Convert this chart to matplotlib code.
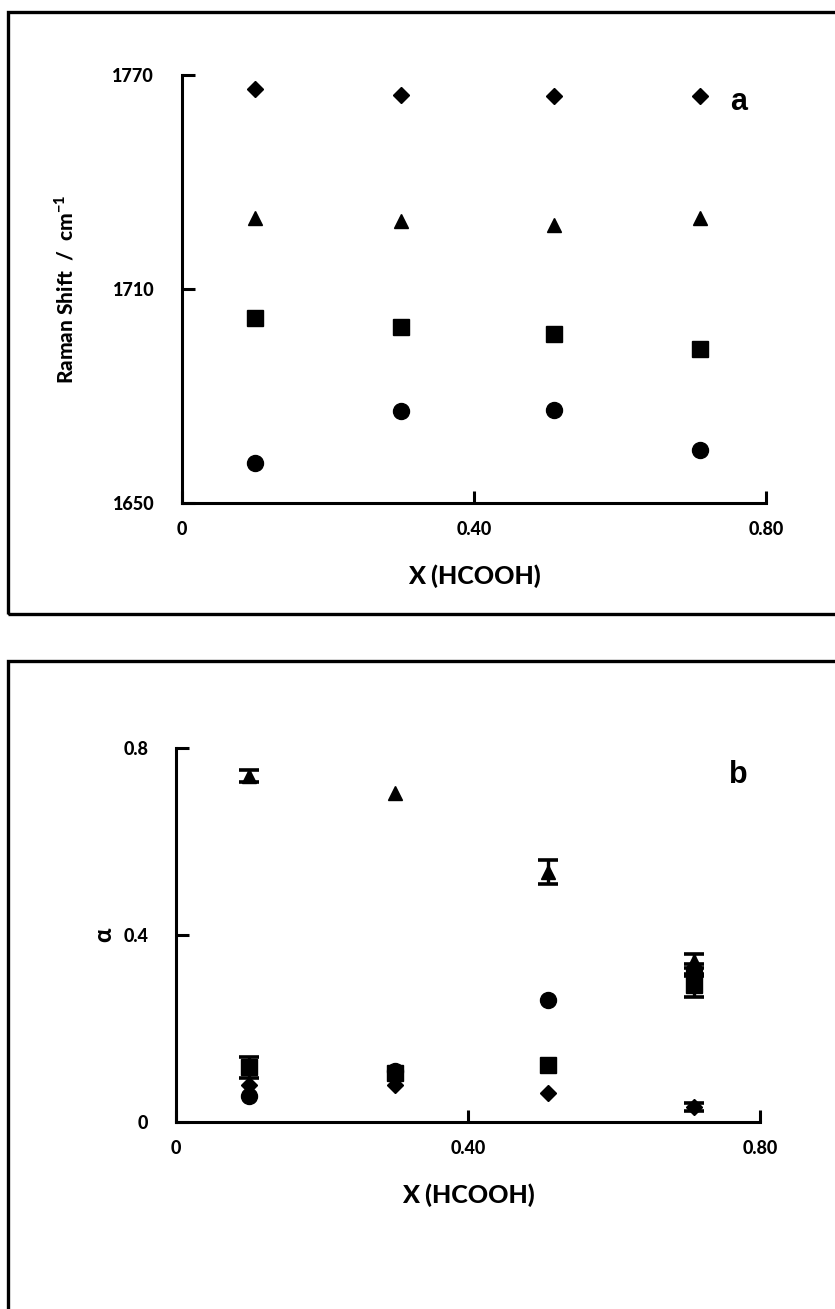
import numpy as np
import matplotlib.pyplot as plt
from matplotlib.patches import Rectangle

plt.rcParams['font.family'] = ['Lato', 'Liberation Sans', 'DejaVu Sans']
plt.rcParams['font.weight'] = 'black'
plt.rcParams['mathtext.fontset'] = 'custom'
plt.rcParams['mathtext.rm'] = 'Lato:black'
plt.rcParams['mathtext.bf'] = 'Lato:black'

# mole fraction of formic acid
x_frac = [0.10, 0.30, 0.51, 0.71]

# (a) band positions, cm-1
shift_diamond = [1766.0, 1764.3, 1764.2, 1764.0]
shift_triangle = [1729.9, 1729.1, 1727.9, 1729.8]
shift_square = [1701.8, 1699.4, 1697.3, 1693.2]
shift_circle = [1661.3, 1675.9, 1676.1, 1664.9]

# (b) fractions alpha with errors (0 = no bar drawn)
alpha_triangle = [0.740, 0.703, 0.535, 0.345]
err_triangle = [0.012, 0.0, 0.025, 0.015]
alpha_circle = [0.056, 0.110, 0.262, 0.325]
err_circle = [0.0, 0.0, 0.0, 0.012]
alpha_square = [0.117, 0.105, 0.122, 0.292]
err_square = [0.022, 0.0, 0.0, 0.024]
alpha_diamond = [0.080, 0.080, 0.062, 0.032]
err_diamond = [0.0, 0.0, 0.0, 0.008]

W, H = 835, 1309
fig = plt.figure(figsize=(W / 100, H / 100), dpi=100)


def box(px_left, px_top, px_right, px_bottom):
    return [px_left / W, 1 - px_bottom / H, (px_right - px_left) / W, (px_bottom - px_top) / H]


# outer frames round each panel
fig.add_artist(Rectangle((8 / W, 1 - 614 / H), 1.0, (614 - 12) / H,
                         transform=fig.transFigure, fill=False, lw=2.4, ec='black'))
fig.add_artist(Rectangle((8 / W, -0.2), 1.0, 0.2 + 1 - 661 / H,
                         transform=fig.transFigure, fill=False, lw=2.4, ec='black'))


def style_axes(ax):
    for s in ['top', 'right']:
        ax.spines[s].set_visible(False)
    for s in ['left', 'bottom']:
        ax.spines[s].set_linewidth(2.2)
    ax.tick_params(direction='in', length=9, width=2.2, labelsize=13, pad=13)
    ax.tick_params(axis='y', pad=20)
    ax.set_xlim(0, 0.8)
    ax.set_xticks([0, 0.4, 0.8])
    ax.set_xticklabels(['0', '0.40', '0.80'])
    for lab in ax.get_xticklabels() + ax.get_yticklabels():
        lab.set_fontweight('black')
    ax.set_xlabel('X (HCOOH)', fontsize=18, fontweight='black', labelpad=19)


def points(ax, y, err, marker, ms):
    ax.plot(x_frac, y, marker=marker, markersize=ms, color='black', linestyle='none')
    x = [xv for xv, e in zip(x_frac, err) if e > 0]
    yv = [v for v, e in zip(y, err) if e > 0]
    ev = [e for e in err if e > 0]
    if ev:
        ax.errorbar(x, yv, yerr=ev, fmt='none', ecolor='black',
                    elinewidth=2.4, capsize=7, capthick=2.6)


# panel a
ax1 = fig.add_axes(box(182, 75, 766, 503))
ax1.plot(x_frac, shift_diamond, marker='D', markersize=8.5, color='black', linestyle='none')
ax1.plot(x_frac, shift_triangle, marker='^', markersize=10, color='black', linestyle='none')
ax1.plot(x_frac, shift_square, marker='s', markersize=11, color='black', linestyle='none')
ax1.plot(x_frac, shift_circle, marker='o', markersize=11.5, color='black', linestyle='none')
ax1.set_ylim(1650, 1770)
ax1.set_yticks([1650, 1710, 1770])
style_axes(ax1)
ax1.set_ylabel('Raman Shift  /  cm$^{\\mathbf{-1}}$', fontsize=15, fontweight='black', labelpad=26)
ax1.text(0.762, 1762.5, 'a', fontsize=22, fontweight='bold',
         family=['Liberation Sans Narrow', 'Liberation Sans'], ha='center', va='center')

# panel b
ax2 = fig.add_axes(box(176, 748, 760, 1122))
points(ax2, alpha_triangle, err_triangle, '^', 10)
points(ax2, alpha_circle, err_circle, 'o', 11.5)
points(ax2, alpha_square, err_square, 's', 11)
points(ax2, alpha_diamond, err_diamond, 'D', 8.5)
ax2.set_ylim(0, 0.8)
ax2.set_yticks([0, 0.4, 0.8])
ax2.set_yticklabels(['0', '0.4', '0.8'])
style_axes(ax2)
ax2.set_ylabel('\u03b1', fontsize=17, fontweight='black', labelpad=6)
ax2.text(0.77, 0.742, 'b', fontsize=22, fontweight='bold',
         family=['Liberation Sans Narrow', 'Liberation Sans'], ha='center', va='center')

fig.savefig('out.png', dpi=100)
